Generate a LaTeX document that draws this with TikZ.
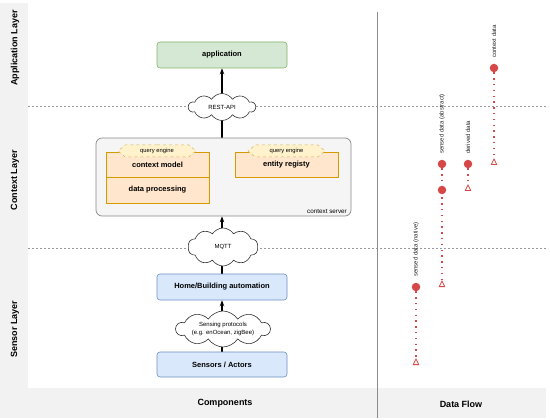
\documentclass[tikz,border=0pt]{standalone}
\usepackage{fontspec}
\setmainfont{Liberation Sans}
\usetikzlibrary{shapes.symbols,arrows.meta}
\definecolor{stripgray}{HTML}{F2F2F2}
\definecolor{sepgray}{HTML}{999999}
\definecolor{csfill}{HTML}{F5F5F5}
\definecolor{csdraw}{HTML}{888888}
\definecolor{gfill}{HTML}{D5E8D4}
\definecolor{gdraw}{HTML}{82B366}
\definecolor{bfill}{HTML}{DAE8FC}
\definecolor{bdraw}{HTML}{6C8EBF}
\definecolor{ofill}{HTML}{FFE6CC}
\definecolor{odraw}{HTML}{D79B00}
\definecolor{yfill}{HTML}{FFF2CC}
\definecolor{ydraw}{HTML}{D6B656}
\definecolor{flowred}{HTML}{D64848}
\pgfdeclarelayer{bg}
\pgfdeclarelayer{mid}
\pgfsetlayers{bg,mid,main}
\begin{document}
\begin{tikzpicture}[x=1pt,y=-1pt,
  boxtext/.style={font=\fontsize{7.5}{9}\selectfont\bfseries},
  greenbox/.style={boxtext,draw=gdraw,fill=gfill,rounded corners=3pt,line width=0.6pt,inner sep=0pt},
  bluebox/.style={boxtext,draw=bdraw,fill=bfill,rounded corners=3pt,line width=0.6pt,inner sep=0pt},
  orangebox/.style={boxtext,draw=odraw,fill=ofill,line width=0.6pt,inner sep=0pt},
  qengine/.style={signal,signal to=east and west,signal pointer angle=80,draw=ydraw,fill=yfill,dashed,line width=0.5pt,inner sep=0pt,font=\fontsize{5.8}{7}\selectfont},
  cloudnode/.style={cloud,cloud puffs=10,cloud puff arc=115,cloud ignores aspect,draw=black!80,fill=white,line width=0.6pt,inner sep=0pt},
  cloudtext/.style={align=center,inner sep=0pt,font=\fontsize{6}{7.2}\selectfont},
  layerlabel/.style={rotate=90,font=\fontsize{9}{10}\selectfont\bfseries},
  footlabel/.style={font=\fontsize{9}{10}\selectfont\bfseries},
  arr/.style={line width=1.4pt,-{Stealth[length=6pt,width=4.5pt]}},
  sepline/.style={draw=sepgray,dashed,dash pattern=on 2pt off 2pt,line width=0.5pt},
  dot/.style={circle,fill=flowred,minimum size=8.5pt,inner sep=0pt},
  flow/.style={draw=flowred,line width=1.3pt,dash pattern=on 1.3pt off 4.5pt,-{Triangle[open,reversed,length=7pt,width=6.5pt,line width=0.8pt]}},
  dlabel/.style={rotate=90,anchor=west,inner sep=0pt,font=\fontsize{6}{7}\selectfont,text=black!85}]
\useasboundingbox (0,0) rectangle (550,420);
\begin{pgfonlayer}{bg}
  \fill[stripgray] (0,3) rectangle (28,418);
  \fill[stripgray] (28,388) rectangle (546,418);
  \draw[sepline] (28,106) -- (548,106);
  \draw[sepline] (28,248) -- (548,248);
  \draw[draw=black!45,line width=0.7pt] (377,12) -- (377,418);
\end{pgfonlayer}

% layer labels
\node[layerlabel] (lapp) at (15,48) {Application Layer};
\node[layerlabel] (lctx) at (15,180) {Context Layer};
\node[layerlabel] (lsen) at (15,329) {Sensor Layer};
\node[footlabel] (comp) at (225,403) {Components};
\node[footlabel] (dflow) at (461,404) {Data Flow};

% components
\node[greenbox,minimum width=130pt,minimum height=26pt] (app) at (222,55) {application};
\node[draw=csdraw,fill=csfill,rounded corners=6pt,line width=0.7pt,minimum width=255pt,minimum height=78pt] (cs) at (223.5,177) {};
\node[font=\fontsize{6.3}{7}\selectfont,anchor=east,inner sep=0pt] (cslabel) at (347,211) {context server};
\node[orangebox,minimum width=103pt,minimum height=25pt] (cm) at (157.5,164.5) {context model};
\node[orangebox,minimum width=103pt,minimum height=26pt] (dp) at (157.5,190) {data processing};
\node[orangebox,minimum width=103pt,minimum height=25pt] (er) at (286.5,164.5) {entity registy};
\node[qengine,minimum width=78pt,minimum height=12pt] (q1) at (157,151) {query engine};
\node[qengine,minimum width=77pt,minimum height=12pt] (q2) at (286.5,151) {query engine};
\node[bluebox,minimum width=130pt,minimum height=26pt] (hb) at (222,287) {Home/Building automation};
\node[bluebox,minimum width=130pt,minimum height=25pt] (sa) at (222,364.5) {Sensors / Actors};

\begin{pgfonlayer}{mid}
  \draw[arr] (sa.north) -- (hb.south);
  \draw[arr] (hb.north) -- (hb.north |- cs.south);
  \draw[arr] (hb.north |- cs.north) -- (app.south);
\end{pgfonlayer}

\node[cloudnode,minimum width=67pt,minimum height=27pt] (rest) at (222,107) {};
\node[cloudtext] (resttxt) at (rest.center) {REST-API};
\node[cloudnode,minimum width=70pt,minimum height=38pt] (mqtt) at (223,247) {};
\node[cloudtext] (mqtttxt) at (mqtt.center) {MQTT};
\node[cloudnode,minimum width=94pt,minimum height=36pt] (sp) at (223,329) {};
\node[cloudtext] (sptxt) at (sp.center) {Sensing protocols\\(e.g. enOcean, zigBee)};

% data flow
\coordinate (nate) at (416,365);
\node[dot] (nat) at (416,287) {};
\node[dlabel] (natl) at (416,277) {sensed data (native)};
\draw[flow] (nat) -- (nate);

\coordinate (abse) at (442,287);
\node[dot] (abs) at (442,164) {};
\node[dot] (abs2) at (442,190) {};
\node[dlabel] (absl) at (442,154) {sensed data (abstract)};
\draw[flow] (abs) -- (abse);

\coordinate (dere) at (468,191);
\node[dot] (der) at (468,164) {};
\node[dlabel] (derl) at (468,154) {derived data};
\draw[flow] (der) -- (dere);

\coordinate (ctxe) at (494,165);
\node[dot] (ctx) at (494,68) {};
\node[dlabel] (ctxl) at (494,58) {context data};
\draw[flow] (ctx) -- (ctxe);
\end{tikzpicture}
\end{document}
